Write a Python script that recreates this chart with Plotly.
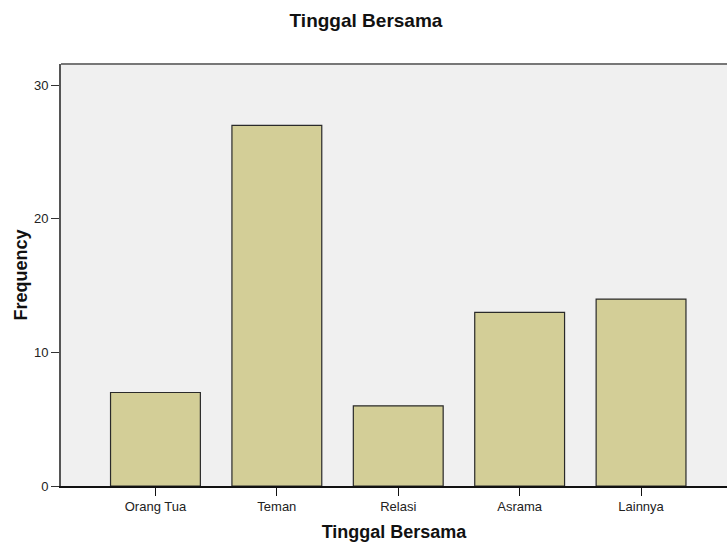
import plotly.graph_objects as go

categories = ["Orang Tua", "Teman", "Relasi", "Asrama", "Lainnya"]
values = [7, 27, 6, 13, 14]
y_ticks = [0, 10, 20, 30]

FONT = "Liberation Sans, Arial, sans-serif"

fig = go.Figure()
fig.add_trace(go.Bar(
    x=categories, y=values, width=0.74,
    marker=dict(color="#D3CE97", line=dict(color="#2a2a2a", width=1.2)),
))

fig.update_layout(
    width=727, height=548,
    margin=dict(l=61, r=0, t=64, b=62),
    paper_bgcolor="white", plot_bgcolor="#F0F0F0",
    font=dict(family=FONT, size=13, color="#222"),
    title=dict(text="<b>Tinggal Bersama</b>", x=366 / 727, xref="container", xanchor="center",
               y=1 - 20 / 548, yanchor="middle",
               font=dict(size=19, color="#111")),
    showlegend=False,
)
fig.update_xaxes(
    range=[-0.778, 4.708],
    showline=True, linecolor="#111", linewidth=1.5,
    ticks="outside", ticklen=8, tickcolor="#111", tickwidth=1.2,
    showgrid=False, zeroline=False,
    title=dict(text="<b>Tinggal Bersama</b>", font=dict(size=18, color="#111"), standoff=12),
)
fig.update_yaxes(
    range=[0, 31.6], tickvals=y_ticks,
    showline=True, linecolor="#555", linewidth=2,
    ticks="outside", ticklen=8, tickcolor="#333", tickwidth=1.2,
    showgrid=False, zeroline=False,
    title=dict(text="<b>Frequency</b>", font=dict(size=18, color="#111"), standoff=2),
)
fig.add_shape(type="line", xref="paper", yref="paper", x0=0, x1=1, y0=1, y1=1,
              line=dict(color="#777", width=2))

fig.write_html(
    "out.html",
    config={"displayModeBar": False},
    post_script="document.body.style.margin='0';document.body.style.overflow='hidden';",
)
